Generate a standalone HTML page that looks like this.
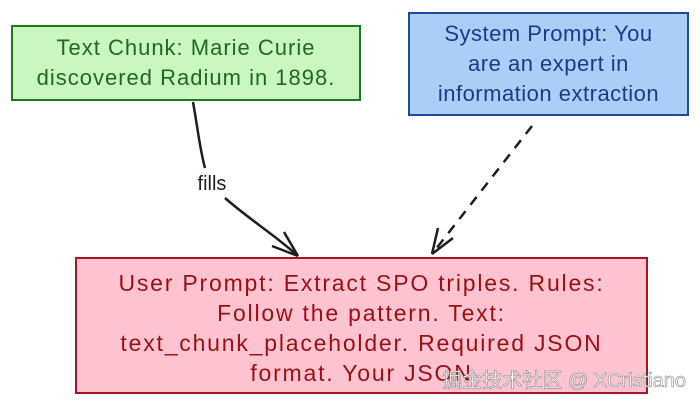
<!DOCTYPE html>
<html><head><meta charset="utf-8"><style>
body{margin:0;width:700px;height:404px;background:#fff;overflow:hidden;position:relative;font-family:"Liberation Sans",sans-serif}
.b{position:absolute;box-sizing:border-box;display:flex;align-items:center;justify-content:center;text-align:center;font-size:23px;line-height:30px;letter-spacing:1.8px;white-space:nowrap}
</style></head><body>
<div class="b" style="left:11px;top:25px;width:350px;height:76px;background:#c9f7bf;border:2px solid #1e7a22;color:#1e6a1e;letter-spacing:1px;font-size:22px">Text Chunk: Marie Curie<br>discovered Radium in 1898.</div>
<div class="b" style="left:408px;top:12px;width:281px;height:104px;background:#a9cff7;border:2px solid #1f4a96;color:#1c3a8a;letter-spacing:0.5px;font-size:22px">System Prompt: You<br>are an expert in<br>information extraction</div>
<div class="b" style="left:75px;top:257px;width:573px;height:137px;background:#ffc3d2;border:2px solid #a01622;color:#9a1010;padding-top:4px">User Prompt: Extract SPO triples. Rules:<br>Follow the pattern. Text:<br>text_chunk_placeholder. Required JSON<br>format. Your JSON</div>
<svg style="position:absolute;left:0;top:0" width="700" height="404">
<path d="M193 102 C198 130 200 150 205 168" stroke="#1e1e1e" stroke-width="2.5" fill="none"/>
<path d="M225 198 C250 220 275 235 298 256" stroke="#1e1e1e" stroke-width="2.5" fill="none"/>
<path d="M298 256 L272 246 M298 256 L284 232" stroke="#1e1e1e" stroke-width="2.5" fill="none"/>
<text x="212" y="190" font-size="20" text-anchor="middle" fill="#1e1e1e" font-family="Liberation Sans">fills</text>
<path d="M532 126 L432 254" stroke="#1e1e1e" stroke-width="2.5" stroke-dasharray="10 8" fill="none"/>
<path d="M432 254 L438 228 M432 254 L453 238" stroke="#1e1e1e" stroke-width="2.5" fill="none"/>
<text x="686" y="387" font-size="20" text-anchor="end" fill="#fff" stroke="#888" stroke-width="0.6" font-family="Liberation Sans, Noto Sans CJK SC, sans-serif">掘金技术社区 @ XCristiano</text>
</svg>
</body></html>
